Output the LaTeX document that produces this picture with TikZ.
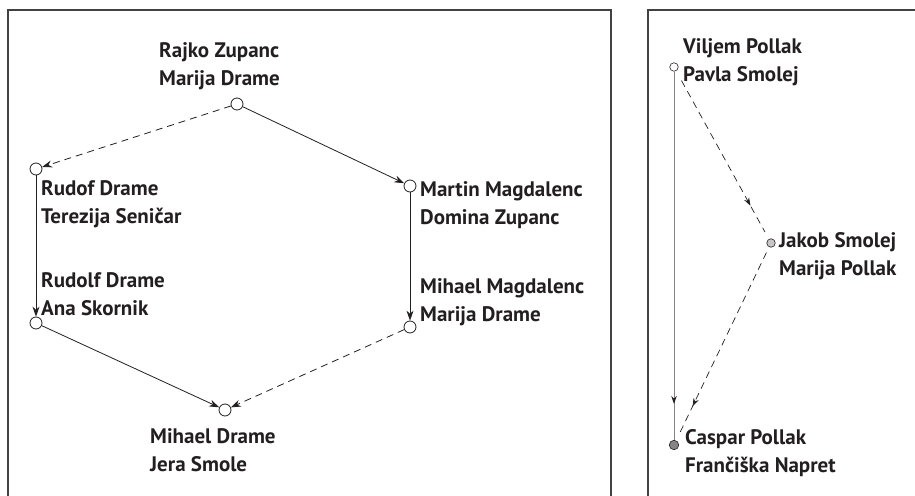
\documentclass[tikz,border=0pt]{standalone}
\usepackage{fontspec}
\setmainfont{PT Sans}
\usetikzlibrary{arrows.meta,decorations.markings}
\definecolor{ink}{HTML}{231F20}
\begin{document}
\begin{tikzpicture}[x=1pt,y=-1pt,
  frame/.style={draw=ink!85, line width=1.1pt},
  lbl/.style={font=\bfseries\fontsize{21}{27.5}\selectfont, align=left, inner sep=0pt, text=ink, anchor=west},
  pnode/.style={circle, draw=ink, line width=0.8pt, fill=white, minimum size=12pt, inner sep=0pt},
  snode/.style={circle, draw=ink, line width=0.6pt, fill=white, minimum size=8.5pt, inner sep=0pt},
  link/.style={draw=ink, line width=0.8pt, -{Stealth[length=10pt,width=7pt]}},
  dlink/.style={link, dash pattern=on 7pt off 5pt},
  midarrow/.style={postaction={decorate}, decoration={markings, mark=at position #1 with {\arrow[ink]{Stealth[length=8pt,width=5.5pt]}}}},
  slink/.style={draw=ink, line width=0.7pt, dash pattern=on 7pt off 5pt}
]
\useasboundingbox (0,0) rectangle (915,495);
% frames
\draw[frame] (8,496) -- (8,10) -- (611,10) -- (611,496);
\draw[frame] (648,496) -- (648,10) -- (916,10);

% left panel nodes
\node[pnode] (rz) at (237,104) {};
\node[pnode] (rd) at (36,169) {};
\node[pnode] (mm) at (410,186) {};
\node[pnode] (ra) at (36,323) {};
\node[pnode] (mg) at (410,327) {};
\node[pnode] (md) at (225,410) {};

\node[lbl] (trz) at (159,66) {Rajko Zupanc\\Marija Drame};
\node[lbl] (trd) at (41,204) {Rudof Drame\\Terezija Seničar};
\node[lbl] (tmm) at (420,205) {Martin Magdalenc\\Domina Zupanc};
\node[lbl] (tra) at (41,294) {Rudolf Drame\\Ana Skornik};
\node[lbl] (tmg) at (420,302) {Mihael Magdalenc\\Marija Drame};
\node[lbl] (tmd) at (150,450) {Mihael Drame\\Jera Smole};

\draw[dlink] (rz) -- (rd);
\draw[link] (rz) -- (mm);
\draw[link] (rd) -- (ra);
\draw[link] (mm) -- (mg);
\draw[link] (ra) -- (md);
\draw[dlink] (mg) -- (md);

% right panel nodes
\node[snode] (vp) at (674,67) {};
\node[snode, fill=ink!25] (js) at (771,243) {};
\node[snode, fill=ink!55, minimum size=9.5pt] (cp) at (674,445) {};

\node[lbl] (tvp) at (683,62) {Viljem Pollak\\Pavla Smolej};
\node[lbl] (tjs) at (779,256) {Jakob Smolej\\Marija Pollak};
\node[lbl] (tcp) at (685,453) {Caspar Pollak\\Frančiška Napret};

\draw[draw=ink!55, line width=1pt, midarrow=-36pt] (vp) -- (cp);
\draw[slink, shorten <=11pt, shorten >=8pt, midarrow=-38pt] (vp) -- (js);
\draw[slink, shorten <=6pt, shorten >=5pt, midarrow=-38pt] (js) -- (cp);
\end{tikzpicture}
\end{document}
